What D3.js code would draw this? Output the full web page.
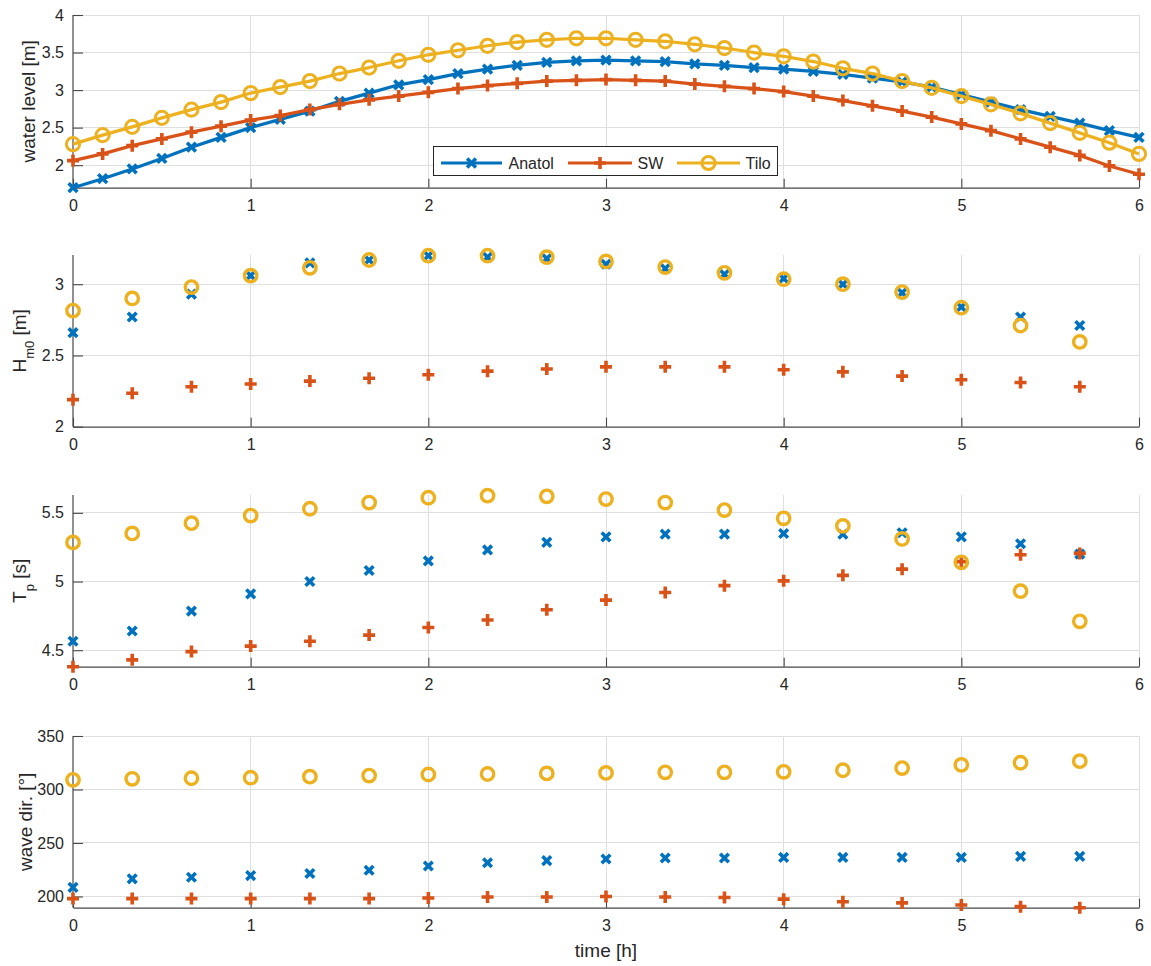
<!DOCTYPE html>
<html>
<head>
<meta charset="utf-8">
<script src="https://cdn.jsdelivr.net/npm/d3@7/dist/d3.min.js"></script>
<style>
  body { margin: 0; background: #fff; }
  text { font-family: "Liberation Sans", Arial, Helvetica, sans-serif; fill: #262626; }
</style>
</head>
<body>
<svg id="fig" width="1151" height="966"></svg>
<script>
// ---- time axes (hours) ----
const hoursFine = [0, 0.1667, 0.3333, 0.5, 0.6667, 0.8333, 1, 1.1667, 1.3333, 1.5, 1.6667, 1.8333,
  2, 2.1667, 2.3333, 2.5, 2.6667, 2.8333, 3, 3.1667, 3.3333, 3.5, 3.6667, 3.8333,
  4, 4.1667, 4.3333, 4.5, 4.6667, 4.8333, 5, 5.1667, 5.3333, 5.5, 5.6667, 5.8333, 6];
const hoursWave = [0, 0.3333, 0.6667, 1, 1.3333, 1.6667, 2, 2.3333, 2.6667, 3, 3.3333, 3.6667,
  4, 4.3333, 4.6667, 5, 5.3333, 5.6667];
const timeTicks = [0, 1, 2, 3, 4, 5, 6];

// ---- series names / colours ----
const seriesNames = ["Anatol", "SW", "Tilo"];
const seriesColors = ["#0072BD", "#D95319", "#EDB120"];
const seriesMarkers = ["x", "+", "o"];

// ---- water level [m] ----
const wlAnatol = [1.70, 1.82, 1.95, 2.09, 2.24, 2.37, 2.50, 2.61, 2.72, 2.85, 2.96, 3.07,
  3.14, 3.22, 3.28, 3.33, 3.37, 3.39, 3.40, 3.39, 3.38, 3.35, 3.33, 3.30,
  3.28, 3.25, 3.21, 3.16, 3.11, 3.04, 2.94, 2.84, 2.74, 2.65, 2.56, 2.46, 2.37];
const wlSW = [2.06, 2.15, 2.26, 2.35, 2.44, 2.52, 2.60, 2.66, 2.74, 2.81, 2.87, 2.92,
  2.97, 3.02, 3.06, 3.09, 3.12, 3.13, 3.14, 3.13, 3.12, 3.08, 3.05, 3.02,
  2.98, 2.92, 2.86, 2.79, 2.72, 2.64, 2.55, 2.46, 2.35, 2.24, 2.13, 1.99, 1.88];
const wlTilo = [2.28, 2.40, 2.51, 2.63, 2.74, 2.84, 2.96, 3.04, 3.12, 3.22, 3.30, 3.39,
  3.47, 3.53, 3.59, 3.64, 3.67, 3.69, 3.69, 3.67, 3.65, 3.61, 3.56, 3.50,
  3.45, 3.38, 3.29, 3.22, 3.12, 3.03, 2.92, 2.81, 2.69, 2.56, 2.43, 2.30, 2.15];

// ---- significant wave height Hm0 [m] ----
const hsAnatol = [2.66, 2.77, 2.93, 3.06, 3.15, 3.17, 3.20, 3.19, 3.18, 3.14, 3.11, 3.07,
  3.04, 3.00, 2.94, 2.84, 2.77, 2.71];
const hsSW = [2.19, 2.235, 2.28, 2.30, 2.32, 2.34, 2.365, 2.39, 2.405, 2.42, 2.42, 2.42,
  2.40, 2.385, 2.355, 2.33, 2.31, 2.28];
const hsTilo = [2.815, 2.90, 2.98, 3.06, 3.115, 3.17, 3.20, 3.20, 3.19, 3.16, 3.12, 3.08,
  3.035, 3.00, 2.945, 2.835, 2.71, 2.595];

// ---- peak period Tp [s] ----
const tpAnatol = [4.565, 4.64, 4.785, 4.91, 5.00, 5.08, 5.15, 5.23, 5.285, 5.325, 5.345, 5.345,
  5.35, 5.345, 5.355, 5.325, 5.275, 5.20];
const tpSW = [4.38, 4.43, 4.49, 4.53, 4.565, 4.61, 4.665, 4.72, 4.795, 4.865, 4.92, 4.97,
  5.005, 5.045, 5.09, 5.145, 5.195, 5.205];
const tpTilo = [5.285, 5.35, 5.425, 5.48, 5.53, 5.575, 5.61, 5.625, 5.62, 5.60, 5.575, 5.52,
  5.46, 5.405, 5.31, 5.14, 4.93, 4.71];

// ---- wave direction [deg] ----
const dirAnatol = [208.5, 216.5, 218, 219.5, 221.5, 224.5, 228.5, 231.5, 233.5, 235, 236, 236,
  236.5, 236.5, 236.5, 236.5, 237.5, 237.5];
const dirSW = [198, 198, 198, 198, 198, 198, 198.5, 199.5, 199.5, 200, 199.5, 199,
  197.5, 195, 194, 192, 190.5, 189.5];
const dirTilo = [309, 310, 310.5, 311, 312, 313, 314, 314.5, 315, 315.5, 316, 316,
  316.5, 318, 320, 323, 325, 326.5];

// ---- y-axis settings ----
const wlTicks = [2, 2.5, 3, 3.5, 4];
const hsTicks = [2, 2.5, 3];
const tpTicks = [4.5, 5, 5.5];
const dirTicks = [200, 250, 300, 350];

// ---------------------------------------------------------------
const svg = d3.select("#fig");
const left = 73, right = 1139;
const axisColor = "#474747";
const gridColor = "#dfdfdf";

const x = d3.scaleLinear().domain([0, 6]).range([left, right]);

const panels = [
  { top: 15, bottom: 187.7, domain: [1.7, 4], ticks: wlTicks, t: hoursFine,
    data: [wlAnatol, wlSW, wlTilo], lines: true,
    label: [{ s: "water level [m]" }], labelX: 35 },
  { top: 255, bottom: 426.7, domain: [2, 3.205], ticks: hsTicks, t: hoursWave,
    data: [hsAnatol, hsSW, hsTilo], lines: false,
    label: [{ s: "H" }, { s: "m0", sub: true }, { s: " [m]" }], labelX: 26 },
  { top: 495, bottom: 666.7, domain: [4.38, 5.63], ticks: tpTicks, t: hoursWave,
    data: [tpAnatol, tpSW, tpTilo], lines: false,
    label: [{ s: "T" }, { s: "p", sub: true }, { s: " [s]" }], labelX: 26 },
  { top: 736, bottom: 907.7, domain: [189.5, 350], ticks: dirTicks, t: hoursWave,
    data: [dirAnatol, dirSW, dirTilo], lines: false,
    label: [{ s: "wave dir. [°]" }], labelX: 32 }
];

function markerPath(type, s) {
  if (type === "x") return `M${-s},${-s}L${s},${s}M${-s},${s}L${s},${-s}`;
  if (type === "+") return `M${-s},0L${s},0M0,${-s}L0,${s}`;
  return null;
}

function drawMarker(g, type, color, cx, cy, big) {
  if (type === "o") {
    g.append("circle").attr("cx", cx).attr("cy", cy).attr("r", big ? 6.6 : 6.2)
      .attr("fill", "none").attr("stroke", color).attr("stroke-width", big ? 3 : 3.4);
  } else {
    const s = type === "x" ? (big ? 4.4 : 4.3) : (big ? 6 : 6);
    g.append("path").attr("d", markerPath(type, s))
      .attr("transform", `translate(${cx},${cy})`)
      .attr("fill", "none").attr("stroke", color)
      .attr("stroke-width", type === "x" ? 3.6 : 3.6);
  }
}

panels.forEach((p, pi) => {
  const y = d3.scaleLinear().domain(p.domain).range([p.bottom, p.top]);
  const g = svg.append("g");

  // grid
  const grid = g.append("g").attr("shape-rendering", "crispEdges");
  grid.selectAll("line.gx").data(timeTicks.filter(d => d > 0)).join("line")
    .attr("x1", d => x(d)).attr("x2", d => x(d))
    .attr("y1", p.top).attr("y2", p.bottom)
    .attr("stroke", gridColor).attr("stroke-width", 1);
  grid.selectAll("line.gy").data(p.ticks.filter(d => y(d) < p.bottom - 0.5)).join("line")
    .attr("x1", left).attr("x2", right)
    .attr("y1", d => y(d)).attr("y2", d => y(d))
    .attr("stroke", gridColor).attr("stroke-width", 1);

  // axes
  const xAxis = d3.axisBottom(x).tickValues(timeTicks).tickSize(-9).tickSizeOuter(0)
    .tickPadding(12).tickFormat(d => String(d));
  const yAxis = d3.axisLeft(y).tickValues(p.ticks).tickSize(-10).tickSizeOuter(0)
    .tickPadding(9).tickFormat(d => String(d));

  const gx = g.append("g").attr("transform", `translate(0,${p.bottom})`).call(xAxis);
  const gy = g.append("g").attr("transform", `translate(${left},0)`).call(yAxis);
  [gx, gy].forEach(a => {
    a.select(".domain").attr("stroke", axisColor).attr("stroke-width", 1.2);
    a.selectAll(".tick line").attr("stroke", axisColor).attr("stroke-width", 1.1);
    a.selectAll(".tick text").attr("font-size", 16).attr("fill", "#262626")
      .attr("font-family", '"Liberation Sans", Arial, sans-serif');
  });
  // y domain spans the whole panel
  gy.select(".domain").attr("d", `M0,${p.bottom}V${p.top}`);

  // y label
  const yl = g.append("text")
    .attr("transform", `translate(${p.labelX},${(p.top + p.bottom) / 2}) rotate(-90)`)
    .attr("text-anchor", "middle").attr("font-size", 19);
  let shifted = false;
  p.label.forEach(part => {
    const ts = yl.append("tspan").text(part.s);
    if (part.sub) { ts.attr("dy", 8).attr("font-size", 13); shifted = true; }
    else if (shifted) { ts.attr("dy", -8); shifted = false; }
  });

  // series
  p.data.forEach((vals, si) => {
    const color = seriesColors[si];
    const sg = g.append("g");
    if (p.lines) {
      const line = d3.line().x((d, i) => x(p.t[i])).y(d => y(d));
      sg.append("path").datum(vals).attr("d", line)
        .attr("fill", "none").attr("stroke", color).attr("stroke-width", 3.2)
        .attr("stroke-linejoin", "round");
    }
    vals.forEach((v, i) => drawMarker(sg, seriesMarkers[si], color, x(p.t[i]), y(v), p.lines));
  });

  // legend (top panel)
  if (pi === 0) {
    const lg = svg.append("g");
    lg.append("rect").attr("x", 433.5).attr("y", 146.5).attr("width", 344).attr("height", 29)
      .attr("fill", "#fff").attr("stroke", "#262626").attr("stroke-width", 1);
    const entries = [
      { x1: 441, x2: 502, tx: 508.5 },
      { x1: 568, x2: 632, tx: 637.5 },
      { x1: 677, x2: 740, tx: 745.5 }
    ];
    entries.forEach((e, i) => {
      const cy = 163;
      lg.append("line").attr("x1", e.x1).attr("x2", e.x2).attr("y1", cy).attr("y2", cy)
        .attr("stroke", seriesColors[i]).attr("stroke-width", 3.2);
      drawMarker(lg, seriesMarkers[i], seriesColors[i], (e.x1 + e.x2) / 2, cy, true);
      lg.append("text").attr("x", e.tx).attr("y", cy + 5.8).attr("font-size", 16)
        .text(seriesNames[i]);
    });
  }
});

// x label
svg.append("text").attr("x", (left + right) / 2).attr("y", 957)
  .attr("text-anchor", "middle").attr("font-size", 19).text("time [h]");
</script>
</body>
</html>
